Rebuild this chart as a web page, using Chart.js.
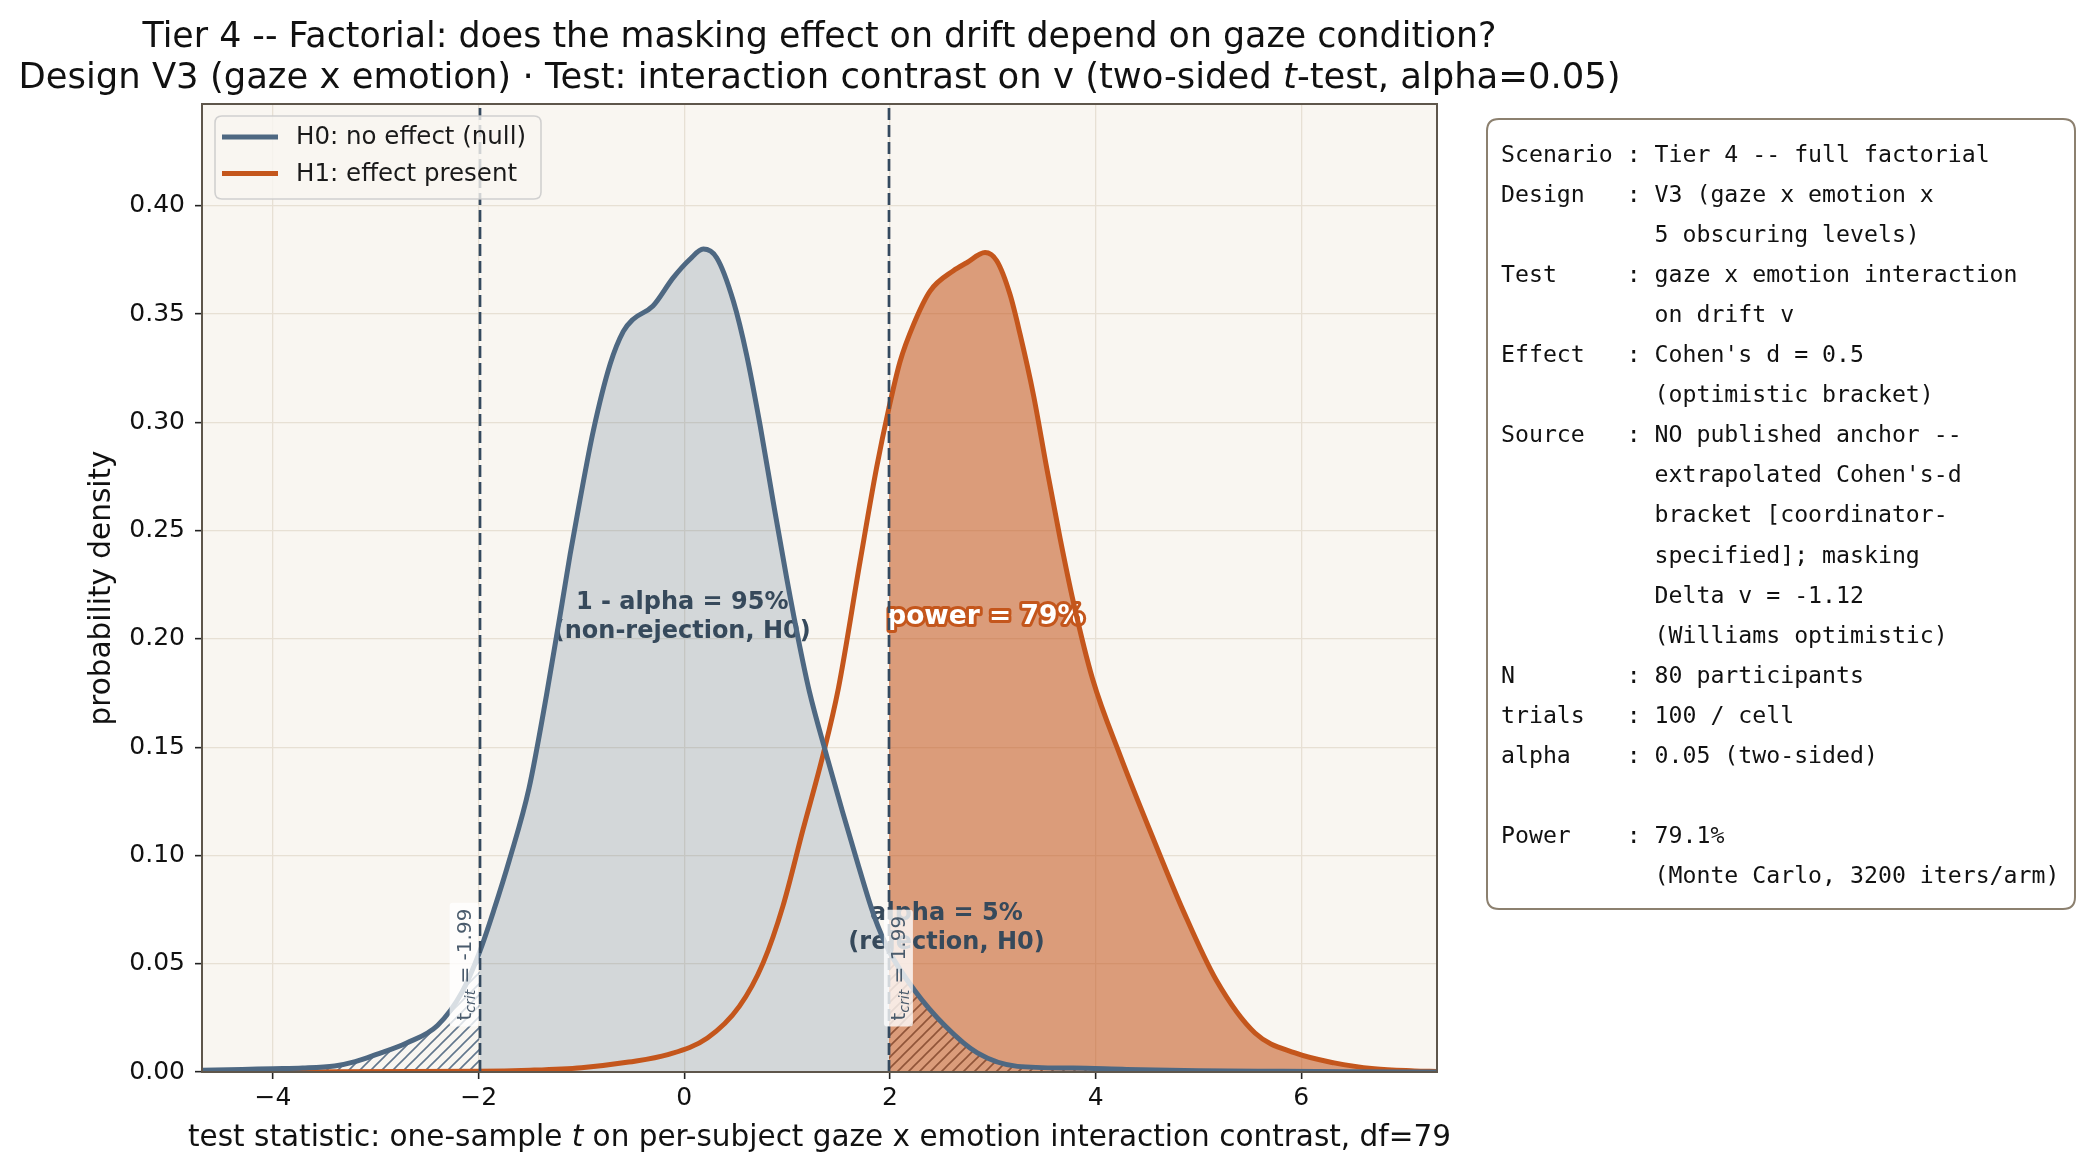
<!DOCTYPE html>
<html><head><meta charset="utf-8">
<script src="https://cdn.jsdelivr.net/npm/chart.js@4.4.0/dist/chart.umd.min.js"></script>
<style>html,body{margin:0;padding:0;background:#fff;}canvas{display:block;}</style>
</head><body>
<canvas id="c" width="2078" height="1172" style="width:2078px;height:1172px"></canvas>
<script>
// ---------------- data ----------------
const tH0 = [-4.69,-4.30,-4.00,-3.71,-3.40,-3.20,-3.00,-2.70,-2.40,-2.16,-1.99,-1.85,-1.70,-1.51,-1.34,-1.19,-1.11,-1.015,-0.885,-0.72,-0.593,-0.50,-0.305,-0.107,0.055,0.185,0.315,0.477,0.607,0.736,0.866,0.996,1.125,1.215,1.385,1.54,1.695,1.85,1.99,2.235,2.54,2.85,3.24,3.78,4.30,5.00,5.80,6.50,7.32];
const dH0 = [0.0008,0.0012,0.0015,0.0018,0.0028,0.0048,0.0080,0.0134,0.0215,0.0370,0.0555,0.0750,0.0980,0.1310,0.1740,0.2160,0.2390,0.2640,0.2960,0.3270,0.3420,0.3475,0.3537,0.3668,0.3753,0.3800,0.3760,0.3560,0.3310,0.2990,0.2630,0.2280,0.1960,0.1760,0.1460,0.1200,0.0950,0.0715,0.0560,0.0380,0.0211,0.0088,0.0026,0.0018,0.0012,0.0006,0.0003,0.0001,0.0000];
const tH1 = [-4.69,-2.00,-1.50,-1.00,-0.54,-0.16,0.225,0.537,0.768,0.96,1.155,1.347,1.498,1.709,1.87,1.99,2.098,2.228,2.39,2.617,2.747,2.925,3.04,3.168,3.266,3.395,3.525,3.655,3.784,3.97,4.24,4.55,4.86,5.17,5.55,5.94,6.32,6.71,7.10,7.32];
const dH1 = [0.0000,0.0003,0.0008,0.0020,0.0046,0.0080,0.0157,0.0304,0.0505,0.0767,0.1120,0.1460,0.1770,0.2356,0.2790,0.3066,0.3280,0.3450,0.3606,0.3700,0.3737,0.3784,0.3745,0.3590,0.3406,0.3128,0.2788,0.2464,0.2170,0.1816,0.1460,0.1090,0.0736,0.0427,0.0180,0.0088,0.0042,0.0015,0.0005,0.0002];
const tCrit = [-1.99, 1.99];
const xTicks = [-4, -2, 0, 2, 4, 6];
const yTicks = [0.00, 0.05, 0.10, 0.15, 0.20, 0.25, 0.30, 0.35, 0.40];
const seriesLabels = ['H0: no effect (null)', 'H1: effect present'];
const titleLine1 = [{t:'Tier 4 -- Factorial: does the masking effect on drift depend on gaze condition?'}];
const titleLine2 = [{t:'Design V3 (gaze x emotion) \u00b7 Test: interaction contrast on v (two-sided '},{t:'t',it:true},{t:'-test, alpha=0.05)'}];
const xTitle = [{t:'test statistic: one-sample '},{t:'t',it:true},{t:' on per-subject gaze x emotion interaction contrast, df=79'}];
const yTitle = 'probability density';
const annNonRej = ['1 - alpha = 95%', '(non-rejection, H0)'];
const annRej = ['alpha = 5%', '(rejection, H0)'];
const annPower = 'power = 79%';
const infoLines = [
"Scenario : Tier 4 -- full factorial",
"Design   : V3 (gaze x emotion x",
"           5 obscuring levels)",
"Test     : gaze x emotion interaction",
"           on drift v",
"Effect   : Cohen's d = 0.5",
"           (optimistic bracket)",
"Source   : NO published anchor --",
"           extrapolated Cohen's-d",
"           bracket [coordinator-",
"           specified]; masking",
"           Delta v = -1.12",
"           (Williams optimistic)",
"N        : 80 participants",
"trials   : 100 / cell",
"alpha    : 0.05 (two-sided)",
"",
"Power    : 79.1%",
"           (Monte Carlo, 3200 iters/arm)"];

// ---------------- styles ----------------
const C = {
  h0:'#4e6882', h1:'#c4561c', plotBg:'#f9f6f1', grid:'#e7e0d4', spine:'#5e564b',
  dash:'#34495e', ann:'#36495b', h0Fill:'rgba(78,104,130,0.22)', h1Fill:'rgba(196,86,28,0.56)'
};
const SANS = '"DejaVu Sans", sans-serif';
const MONO = '"DejaVu Sans Mono", monospace';

const canvas = document.getElementById('c');
const ctx0 = canvas.getContext('2d');
function hatch(color){
  const s = 11, c = document.createElement('canvas'); c.width = s; c.height = s;
  const g = c.getContext('2d'); g.strokeStyle = color; g.lineWidth = 1.6;
  g.beginPath();
  g.moveTo(-1, s+1); g.lineTo(s+1, -1);
  g.moveTo(-s/2-1, s/2+1); g.lineTo(s/2+1, -s/2-1);
  g.moveTo(s/2-1, 1.5*s+1); g.lineTo(1.5*s+1, s/2-1);
  g.stroke();
  return ctx0.createPattern(c, 'repeat');
}
const pts = (xs, ys, f) => xs.map((x,i)=>({x, y: ys[i]})).filter(p => f(p.x));
const common = {pointRadius:0, pointHoverRadius:0, cubicInterpolationMode:'monotone', tension:0.4};

const datasets = [
  Object.assign({label: seriesLabels[0], data: pts(tH0,dH0,()=>true), borderColor:C.h0, borderWidth:5, fill:false, order:1}, common),
  Object.assign({label: seriesLabels[1], data: pts(tH1,dH1,()=>true), borderColor:C.h1, borderWidth:5, fill:false, order:2}, common),
  Object.assign({label:'', data: pts(tH0,dH0,x=>x>=tCrit[0]&&x<=tCrit[1]), borderColor:'transparent', borderWidth:0, backgroundColor:C.h0Fill, fill:'origin', order:6}, common),
  Object.assign({label:'', data: pts(tH1,dH1,x=>x>=tCrit[1]), borderColor:'transparent', borderWidth:0, backgroundColor:C.h1Fill, fill:'origin', order:5}, common),
  Object.assign({label:'', data: pts(tH0,dH0,x=>x<=tCrit[0]), borderColor:'transparent', borderWidth:0, backgroundColor:hatch('rgba(90,112,135,0.95)'), fill:'origin', order:4}, common),
  Object.assign({label:'', data: pts(tH0,dH0,x=>x>=tCrit[1]), borderColor:'transparent', borderWidth:0, backgroundColor:hatch('rgba(125,66,40,0.8)'), fill:'origin', order:3}, common)
];

function drawRich(ctx, segs, cx, baseY, size, color){
  const fonts = segs.map(s => (s.it?'italic ':'') + size + 'px ' + SANS);
  let total = 0;
  const ws = segs.map((s,i)=>{ctx.font = fonts[i]; const w = ctx.measureText(s.t).width; total += w; return w;});
  let x = cx - total/2;
  ctx.textAlign = 'left'; ctx.textBaseline = 'alphabetic'; ctx.fillStyle = color;
  segs.forEach((s,i)=>{ctx.font = fonts[i]; ctx.fillText(s.t, x, baseY); x += ws[i];});
}
function rrect(ctx, x, y, w, h, r){
  ctx.beginPath(); ctx.moveTo(x+r,y); ctx.lineTo(x+w-r,y); ctx.quadraticCurveTo(x+w,y,x+w,y+r);
  ctx.lineTo(x+w,y+h-r); ctx.quadraticCurveTo(x+w,y+h,x+w-r,y+h); ctx.lineTo(x+r,y+h);
  ctx.quadraticCurveTo(x,y+h,x,y+h-r); ctx.lineTo(x,y+r); ctx.quadraticCurveTo(x,y,x+r,y); ctx.closePath();
}

const decor = {
  id:'decor',
  beforeDraw(chart){
    const {ctx, chartArea:a} = chart;
    ctx.save(); ctx.fillStyle = '#fff'; ctx.fillRect(0,0,chart.width,chart.height);
    ctx.fillStyle = C.plotBg; ctx.fillRect(a.left, a.top, a.right-a.left, a.bottom-a.top); ctx.restore();
  },
  beforeDatasetDraw(chart, args){
    if (args.index !== 1) return;
    const {ctx, scales:{x, y}} = chart;
    ctx.save();
    ctx.textAlign = 'center'; ctx.textBaseline = 'middle';
    ctx.font = 'bold 24px ' + SANS; ctx.fillStyle = C.ann;
    const lh = 29;
    let cx = x.getPixelForValue(-0.02), cy = y.getPixelForValue(0.21);
    ctx.fillText(annNonRej[0], cx, cy - lh/2); ctx.fillText(annNonRej[1], cx, cy + lh/2);
    cx = x.getPixelForValue(2.55); cy = y.getPixelForValue(0.0665);
    ctx.fillText(annRej[0], cx, cy - lh/2); ctx.fillText(annRej[1], cx, cy + lh/2);
    ctx.font = 'bold 26.5px ' + SANS; ctx.lineJoin = 'round';
    cx = x.getPixelForValue(2.93); cy = y.getPixelForValue(0.21);
    ctx.strokeStyle = C.h1; ctx.lineWidth = 6; ctx.strokeText(annPower, cx, cy);
    ctx.fillStyle = '#fff'; ctx.fillText(annPower, cx, cy);
    ctx.restore();
  },
  afterDatasetsDraw(chart){
    const {ctx, chartArea:a, scales:{x, y}} = chart;
    ctx.save();
    // critical value lines
    ctx.strokeStyle = C.dash; ctx.lineWidth = 2.7; ctx.setLineDash([12,5]);
    tCrit.forEach(v => { const px = Math.round(x.getPixelForValue(v)); ctx.beginPath(); ctx.moveTo(px, a.bottom); ctx.lineTo(px, a.top); ctx.stroke(); });
    ctx.setLineDash([]);
    // t_crit labels (rotated)
    tCrit.forEach((v, i) => {
      const px = x.getPixelForValue(v);
      const main = 20, sub = 14;
      const valTxt = ' = ' + (v < 0 ? '-' : '') + Math.abs(v).toFixed(2);
      ctx.font = main + 'px ' + SANS; const w1 = ctx.measureText('t').width; const w3 = ctx.measureText(valTxt).width;
      ctx.font = 'italic ' + sub + 'px ' + SANS; const w2 = ctx.measureText('crit').width;
      const len = w1 + w2 + w3, pad = 6, bw = 29, bh = len + 2*pad;
      const bx = i === 0 ? px - bw - 1 : px - 5;
      const bottom = y.getPixelForValue(0.021);
      ctx.fillStyle = 'rgba(255,255,255,0.78)';
      rrect(ctx, bx, bottom - bh, bw, bh, 3); ctx.fill();
      ctx.save();
      ctx.translate(bx + bw/2 + 7, bottom - pad); ctx.rotate(-Math.PI/2);
      ctx.fillStyle = '#4a5b6c'; ctx.textAlign = 'left'; ctx.textBaseline = 'alphabetic';
      ctx.font = main + 'px ' + SANS; ctx.fillText('t', 0, 0);
      ctx.font = 'italic ' + sub + 'px ' + SANS; ctx.fillText('crit', w1, 4);
      ctx.font = main + 'px ' + SANS; ctx.fillText(valTxt, w1 + w2, 0);
      ctx.restore();
    });
    // spines
    ctx.strokeStyle = C.spine; ctx.lineWidth = 2;
    ctx.strokeRect(a.left, a.top, a.right - a.left, a.bottom - a.top);
    // legend
    const lx = 215, ly = 116, lw = 326, lhh = 83;
    ctx.fillStyle = 'rgba(249,246,241,0.8)'; rrect(ctx, lx, ly, lw, lhh, 7); ctx.fill();
    ctx.strokeStyle = 'rgba(204,204,204,0.9)'; ctx.lineWidth = 1.6; ctx.stroke();
    const legendItems = chart.data.datasets.filter(d => d.label);
    legendItems.forEach((d, i) => {
      const yy = 137 + i * 36.6;
      ctx.strokeStyle = d.borderColor; ctx.lineWidth = 5; ctx.lineCap = 'butt';
      ctx.beginPath(); ctx.moveTo(222, yy); ctx.lineTo(278, yy); ctx.stroke();
      ctx.fillStyle = '#1a1a1a'; ctx.font = '24.5px ' + SANS; ctx.textAlign = 'left'; ctx.textBaseline = 'middle';
      ctx.fillText(d.label, 296, yy + 1);
    });
    ctx.restore();
  },
  afterDraw(chart){
    const {ctx, chartArea:a} = chart;
    ctx.save();
    const cx = (a.left + a.right) / 2;
    drawRich(ctx, titleLine1, cx, 46.5, 34.8, '#111');
    drawRich(ctx, titleLine2, cx, 87.5, 35.4, '#111');
    drawRich(ctx, xTitle, cx, 1146, 29.5, '#111');
    // info box
    const bx = 1487, by = 119, bw = 588, bh = 790;
    ctx.fillStyle = '#fff'; rrect(ctx, bx, by, bw, bh, 12); ctx.fill();
    ctx.strokeStyle = '#8c806f'; ctx.lineWidth = 2; ctx.stroke();
    ctx.fillStyle = '#111'; ctx.font = '23.2px ' + MONO; ctx.textAlign = 'left'; ctx.textBaseline = 'alphabetic';
    infoLines.forEach((s, i) => ctx.fillText(s, 1501, 162 + i * 40.05));
    ctx.restore();
  }
};

const fmtX = v => (v < 0 ? '\u2212' + Math.abs(v) : String(v));
new Chart(canvas, {
  type: 'line',
  data: { datasets },
  options: {
    responsive: false, animation: false, devicePixelRatio: 1,
    layout: { padding: { top: 104, right: 641, bottom: 0, left: 0 } },
    plugins: { legend: {display:false}, tooltip: {enabled:false}, title: {display:false} },
    scales: {
      x: {
        type: 'linear', min: -4.69, max: 7.32,
        afterBuildTicks: s => { s.ticks = xTicks.map(v => ({value: v})); },
        afterFit: s => { s.height = 100; },
        ticks: { callback: v => fmtX(v), font: {family: SANS, size: 25}, color: '#111', padding: 4, maxRotation: 0, autoSkip: false },
        grid: { color: C.grid, lineWidth: 1.3, tickLength: 7, tickColor: '#222', tickWidth: 1.6 },
        border: { display: false }
      },
      y: {
        type: 'linear', min: 0, max: 0.447,
        afterBuildTicks: s => { s.ticks = yTicks.map(v => ({value: v})); },
        afterFit: s => { s.width = 202; },
        ticks: { callback: v => v.toFixed(2), font: {family: SANS, size: 25}, color: '#111', padding: 10, autoSkip: false },
        grid: { color: C.grid, lineWidth: 1.3, tickLength: 7, tickColor: '#222', tickWidth: 1.6 },
        border: { display: false },
        title: { display: true, text: yTitle, font: {family: SANS, size: 29.5}, color: '#111', padding: {top: 85, bottom: 0} }
      }
    }
  },
  plugins: [decor]
});
</script>
</body></html>
